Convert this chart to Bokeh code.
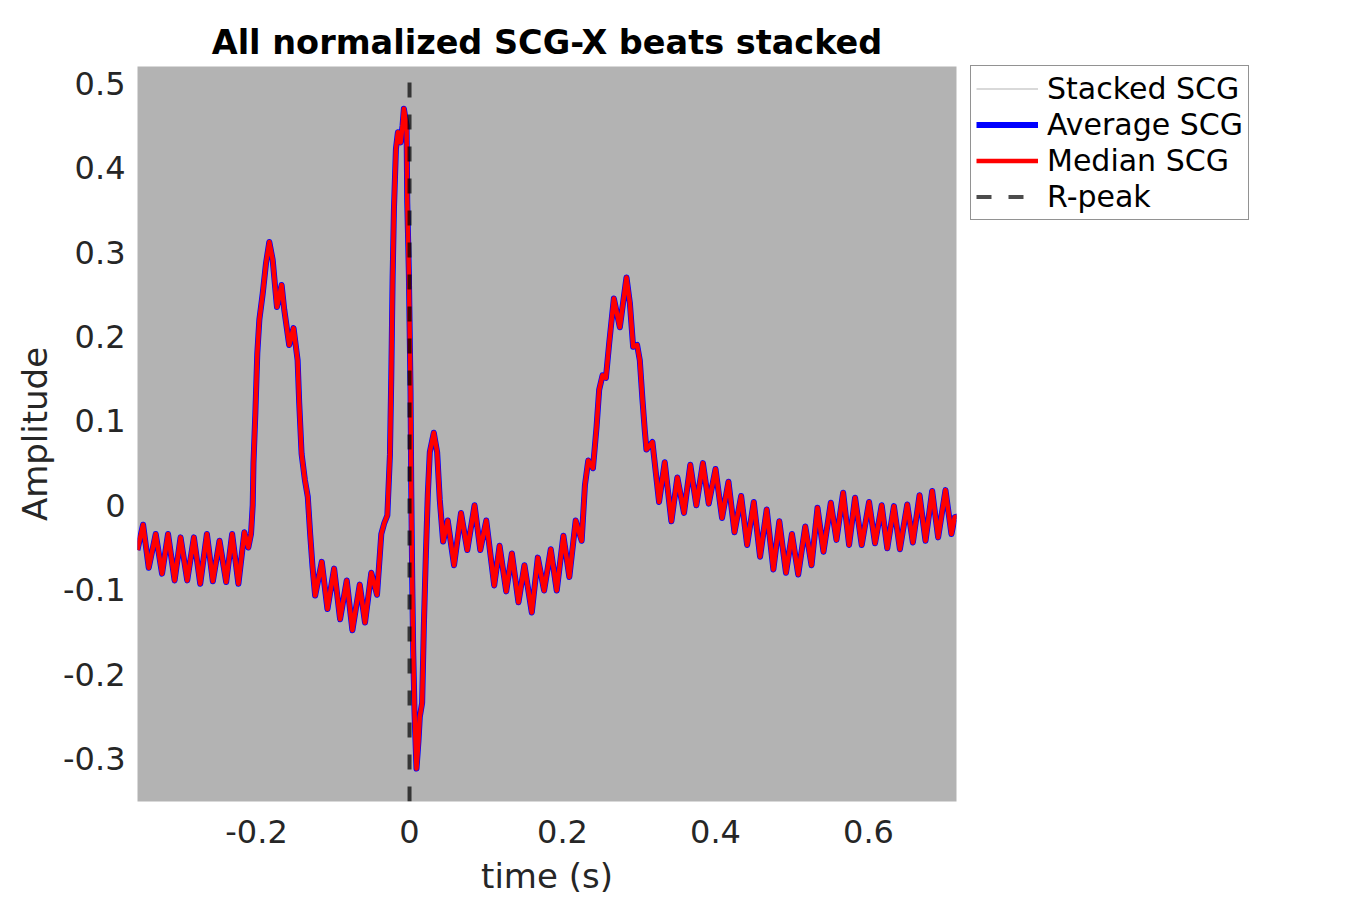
from bokeh.plotting import figure
from bokeh.models import Legend, LegendItem, Range1d, FixedTicker
from bokeh.embed import file_html
from bokeh.resources import INLINE

# ---- data ----
scg_time = [
    -0.3557, -0.3483, -0.3409, -0.3318, -0.3235, -0.3157, -0.3071, -0.2993, -0.2906, -0.2819,
    -0.2736, -0.2649, -0.2571, -0.2484, -0.2397, -0.2319, -0.2237, -0.2159, -0.2107, -0.2072,
    -0.2050, -0.2040, -0.2015, -0.1990, -0.1963, -0.1919, -0.1876, -0.1833, -0.1789, -0.1733,
    -0.1672, -0.1638, -0.1573, -0.1516, -0.1463, -0.1442, -0.1411, -0.1368, -0.1330, -0.1299,
    -0.1268, -0.1234, -0.1147, -0.1073, -0.0986, -0.0908, -0.0821, -0.0747, -0.0651, -0.0582,
    -0.0500, -0.0425, -0.0369, -0.0330, -0.0290, -0.0256, -0.0239, -0.0221, -0.0204, -0.0178,
    -0.0152, -0.0117, -0.0091, -0.0074, -0.0039, -0.0030, -0.0009, 0.0013, 0.0022, 0.0035,
    0.0048, 0.0065, 0.0091, 0.0117, 0.0134, 0.0165, 0.0187, 0.0213, 0.0239, 0.0265,
    0.0317, 0.0361, 0.0395, 0.0439, 0.0499, 0.0582, 0.0673, 0.0755, 0.0850, 0.0925,
    0.1003, 0.1107, 0.1177, 0.1264, 0.1338, 0.1424, 0.1502, 0.1598, 0.1677, 0.1759,
    0.1846, 0.1924, 0.2011, 0.2089, 0.2172, 0.2250, 0.2293, 0.2336, 0.2398, 0.2445,
    0.2479, 0.2523, 0.2567, 0.2610, 0.2671, 0.2749, 0.2836, 0.2880, 0.2923, 0.2975,
    0.3010, 0.3045, 0.3075, 0.3097, 0.3175, 0.3262, 0.3336, 0.3423, 0.3501, 0.3588,
    0.3670, 0.3749, 0.3835, 0.3911, 0.4000, 0.4085, 0.4169, 0.4248, 0.4335, 0.4413,
    0.4500, 0.4582, 0.4669, 0.4756, 0.4834, 0.4921, 0.4999, 0.5081, 0.5173, 0.5255,
    0.5333, 0.5411, 0.5507, 0.5581, 0.5668, 0.5746, 0.5824, 0.5911, 0.6007, 0.6085,
    0.6172, 0.6245, 0.6332, 0.6410, 0.6506, 0.6580, 0.6667, 0.6745, 0.6832, 0.6910,
    0.7006, 0.7084, 0.7127, 0.7180,
]

median_scg = [
    -0.053, -0.023, -0.074, -0.034, -0.081, -0.034, -0.089, -0.038, -0.089, -0.038,
    -0.093, -0.034, -0.090, -0.042, -0.091, -0.034, -0.093, -0.032, -0.050, -0.034,
    0.000, 0.050, 0.110, 0.180, 0.220, 0.251, 0.287, 0.312, 0.291, 0.235,
    0.261, 0.232, 0.190, 0.210, 0.172, 0.121, 0.061, 0.030, 0.010, -0.034,
    -0.073, -0.107, -0.067, -0.123, -0.075, -0.135, -0.089, -0.148, -0.094, -0.139,
    -0.080, -0.106, -0.034, -0.021, -0.012, 0.060, 0.150, 0.270, 0.350, 0.422,
    0.442, 0.430, 0.450, 0.470, 0.450, 0.360, 0.277, 0.136, 0.024, -0.088,
    -0.172, -0.245, -0.312, -0.279, -0.251, -0.234, -0.144, -0.060, 0.013, 0.063,
    0.086, 0.063, 0.007, -0.043, -0.018, -0.071, -0.009, -0.053, 0.000, -0.053,
    -0.018, -0.095, -0.048, -0.102, -0.057, -0.115, -0.071, -0.127, -0.062, -0.101,
    -0.052, -0.101, -0.036, -0.085, -0.018, -0.042, 0.024, 0.053, 0.044, 0.093,
    0.137, 0.154, 0.151, 0.192, 0.245, 0.211, 0.270, 0.240, 0.188, 0.190,
    0.172, 0.125, 0.089, 0.066, 0.075, 0.004, 0.051, -0.019, 0.033, -0.009,
    0.048, 0.000, 0.050, 0.002, 0.043, -0.015, 0.028, -0.032, 0.011, -0.047,
    0.004, -0.061, -0.005, -0.076, -0.019, -0.080, -0.034, -0.082, -0.025, -0.071,
    -0.003, -0.055, 0.003, -0.041, 0.015, -0.047, 0.009, -0.047, 0.004, -0.045,
    0.000, -0.051, -0.001, -0.052, 0.001, -0.044, 0.012, -0.042, 0.017, -0.038,
    0.018, -0.034, -0.014, -0.013,
]

# the average beat coincides with the median beat at this scale
average_scg = list(median_scg)
# stacked beats (light grey, hidden under the average/median traces)
stacked_scg = list(median_scg)

r_peak_time = 0.0
r_peak_span = [-0.351, 0.520]

x_ticks = [-0.2, 0.0, 0.2, 0.4, 0.6]
x_tick_labels = ["-0.2", "0", "0.2", "0.4", "0.6"]
y_ticks = [-0.3, -0.2, -0.1, 0.0, 0.1, 0.2, 0.3, 0.4, 0.5]
y_tick_labels = ["-0.3", "-0.2", "-0.1", "0", "0.1", "0.2", "0.3", "0.4", "0.5"]

FONT = "DejaVu Sans"

p = figure(
    frame_width=819, frame_height=735,
    x_range=Range1d(-0.3556, 0.715), y_range=Range1d(-0.351, 0.520),
    output_backend="svg", toolbar_location=None,
    min_border_left=137, min_border_right=10, min_border_top=66, min_border_bottom=97,
    title="All normalized SCG-X beats stacked",
)
p.background_fill_color = "#b3b3b3"
p.border_fill_color = "white"
p.outline_line_color = None
p.grid.grid_line_color = None

p.title.text_font = FONT
p.title.text_font_size = "33.5px"
p.title.text_font_style = "bold"
p.title.text_color = "black"
p.title.align = "center"

for ax in (p.xaxis[0], p.yaxis[0]):
    ax.axis_line_color = None
    ax.major_tick_line_color = None
    ax.minor_tick_line_color = None
    ax.major_tick_out = 0
    ax.major_tick_in = 0
    ax.minor_tick_out = 0
    ax.major_label_text_font = FONT
    ax.major_label_text_font_size = "32px"
    ax.major_label_text_color = "#262626"
    ax.axis_label_text_font = FONT
    ax.axis_label_text_font_size = "34px"
    ax.axis_label_text_font_style = "normal"
    ax.axis_label_text_color = "#262626"

p.xaxis.ticker = FixedTicker(ticks=x_ticks)
p.xaxis.major_label_overrides = dict(zip(x_ticks, x_tick_labels))
p.yaxis.ticker = FixedTicker(ticks=y_ticks)
p.yaxis.major_label_overrides = dict(zip(y_ticks, y_tick_labels))
p.xaxis.axis_label = "time (s)"
p.yaxis.axis_label = "Amplitude"
p.xaxis.major_label_standoff = 18
p.xaxis.axis_label_standoff = 10
p.yaxis.major_label_standoff = 12
p.yaxis.axis_label_standoff = 5

r_stack = p.line(scg_time, stacked_scg, line_color="#b3b3b3", line_width=1)
r_avg = p.line(scg_time, average_scg, line_color="#0000ff", line_width=6, line_join="round")
r_med = p.line(scg_time, median_scg, line_color="#ff0000", line_width=4.5, line_join="round")
r_peak = p.line([r_peak_time, r_peak_time], r_peak_span, line_color="black", line_alpha=0.7,
                line_width=4, line_dash="15 17")

legend = Legend(
    items=[
        LegendItem(label="Stacked SCG", renderers=[r_stack]),
        LegendItem(label="Average SCG", renderers=[r_avg]),
        LegendItem(label="Median SCG", renderers=[r_med]),
        LegendItem(label="R-peak", renderers=[r_peak]),
    ],
    location=(14, 581),
    margin=0,
    padding=5,
    spacing=1,
    glyph_width=62,
    glyph_height=35,
    label_height=35,
    label_standoff=9,
    label_text_font=FONT,
    label_text_font_size="30px",
    label_text_color="black",
    border_line_color="#262626",
    border_line_width=1,
    background_fill_color="white",
    background_fill_alpha=1.0,
)
p.add_layout(legend, "right")

open("out.html", "w").write(file_html(p, INLINE))
